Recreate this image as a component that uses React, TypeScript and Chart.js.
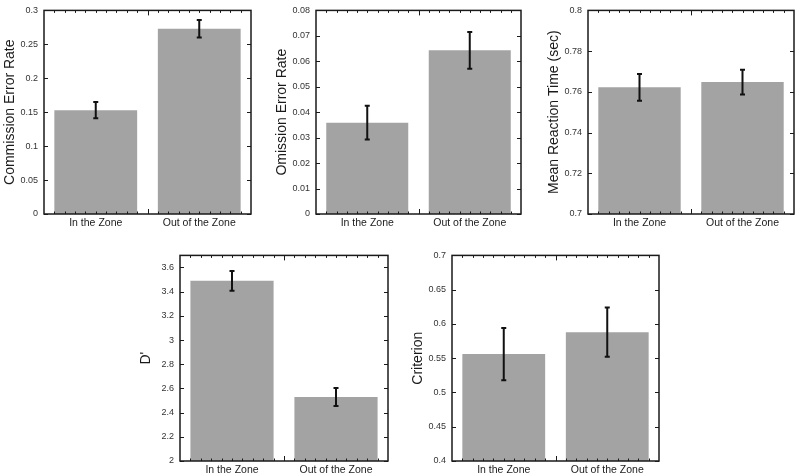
import React, { useEffect, useRef } from "react";
import { Chart, registerables } from "chart.js";

Chart.register(...registerables);
Chart.defaults.font.family = "'Liberation Sans', Arial, Helvetica, sans-serif";

const categories = ["In the Zone", "Out of the Zone"];

const commissionMeans = [0.153, 0.273];
const commissionErrors = [0.012, 0.013];
const commissionTicks = [0, 0.05, 0.1, 0.15, 0.2, 0.25, 0.3];

const omissionMeans = [0.0359, 0.0643];
const omissionErrors = [0.0066, 0.0072];
const omissionTicks = [0, 0.01, 0.02, 0.03, 0.04, 0.05, 0.06, 0.07, 0.08];

const rtMeans = [0.7622, 0.7648];
const rtErrors = [0.0066, 0.0061];
const rtTicks = [0.7, 0.72, 0.74, 0.76, 0.78, 0.8];

const dPrimeMeans = [3.49, 2.529];
const dPrimeErrors = [0.082, 0.074];
const dPrimeTicks = [2, 2.2, 2.4, 2.6, 2.8, 3, 3.2, 3.4, 3.6];
const dPrimeRange = [2, 3.7];

const criterionMeans = [0.556, 0.588];
const criterionErrors = [0.038, 0.036];
const criterionTicks = [0.4, 0.45, 0.5, 0.55, 0.6, 0.65, 0.7];

const YW = 48;
const PT = 8;
const PR = 8;
const XH = 24;

type Box = { l: number; t: number; r: number; b: number };

type PanelProps = {
  title: string;
  means: number[];
  errors: number[];
  ticks: number[];
  min: number;
  max: number;
  box: Box;
};

function Panel({ title, means, errors, ticks, min, max, box }: PanelProps) {
  const ref = useRef<HTMLCanvasElement | null>(null);
  const width = box.r - box.l + YW + PR;
  const height = box.b - box.t + PT + XH;

  useEffect(() => {
    if (!ref.current) return;
    const decor = {
      id: "decor",
      afterDatasetsDraw(chart: any) {
        const { ctx, chartArea: a, scales } = chart;
        const y = scales.y;
        const meta = chart.getDatasetMeta(0);
        ctx.save();
        // error bars
        ctx.strokeStyle = "#111";
        ctx.lineWidth = 2;
        meta.data.forEach((bar: any, i: number) => {
          const m = means[i];
          const e = errors[i];
          const yt = y.getPixelForValue(m + e);
          const yb = y.getPixelForValue(m - e);
          ctx.beginPath();
          ctx.moveTo(bar.x, yt);
          ctx.lineTo(bar.x, yb);
          ctx.moveTo(bar.x - 2.5, yt);
          ctx.lineTo(bar.x + 2.5, yt);
          ctx.moveTo(bar.x - 2.5, yb);
          ctx.lineTo(bar.x + 2.5, yb);
          ctx.stroke();
        });
        // frame
        ctx.strokeStyle = "#1a1a1a";
        ctx.lineWidth = 1.5;
        ctx.strokeRect(a.left, a.top, a.right - a.left, a.bottom - a.top);
        // y ticks inward, both sides
        ctx.lineWidth = 1.2;
        ctx.beginPath();
        ticks.forEach((v) => {
          const py = Math.round(y.getPixelForValue(v)) + 0.5;
          ctx.moveTo(a.left, py);
          ctx.lineTo(a.left + 4, py);
          ctx.moveTo(a.right, py);
          ctx.lineTo(a.right - 4, py);
        });
        ctx.stroke();
        // x minor / major ticks, top and bottom
        const n = categories.length;
        const cw = (a.right - a.left) / n;
        ctx.lineWidth = 1;
        ctx.beginPath();
        for (let i = 0; i < n; i++) {
          for (let k = 0; k < 10; k++) {
            if (i === 0 && k === 0) continue;
            const px = Math.round(a.left + (i + k / 10) * cw) + 0.5;
            const len = k === 0 ? 5 : 2.5;
            ctx.moveTo(px, a.bottom);
            ctx.lineTo(px, a.bottom - len);
            ctx.moveTo(px, a.top);
            ctx.lineTo(px, a.top + len);
          }
        }
        ctx.stroke();
        ctx.restore();
      },
    };

    const chart = new Chart(ref.current, {
      type: "bar",
      data: {
        labels: categories,
        datasets: [
          {
            data: means,
            backgroundColor: "#a3a3a3",
            borderWidth: 0,
            barPercentage: 0.8,
            categoryPercentage: 1,
          },
        ],
      },
      options: {
        responsive: false,
        animation: false,
        devicePixelRatio: 1,
        layout: { padding: { left: 0, top: PT, right: PR, bottom: 0 } },
        plugins: {
          legend: { display: false },
          tooltip: { enabled: false },
        },
        scales: {
          x: {
            grid: { display: false, drawTicks: false },
            border: { display: false },
            ticks: {
              color: "#1a1a1a",
              padding: 3,
              font: { size: 10.5 },
              maxRotation: 0,
              autoSkip: false,
            },
            afterFit: (s: any) => {
              s.height = XH;
            },
          },
          y: {
            min,
            max,
            grid: { display: false, drawTicks: false },
            border: { display: false },
            afterBuildTicks: (s: any) => {
              s.ticks = ticks.map((v) => ({ value: v }));
            },
            ticks: {
              color: "#333",
              padding: 6,
              font: { size: 9 },
              callback: (v: any) => String(v),
            },
            title: {
              display: true,
              text: title,
              color: "#1a1a1a",
              font: { size: 14 },
              padding: { top: 5.6, bottom: 0 },
            },
            afterFit: (s: any) => {
              s.width = YW;
            },
          },
        },
      },
      plugins: [decor],
    } as any);
    return () => chart.destroy();
  }, []);

  return (
    <canvas
      ref={ref}
      width={width}
      height={height}
      style={{
        position: "absolute",
        left: box.l - YW,
        top: box.t - PT,
        width,
        height,
      }}
    />
  );
}

export default function App() {
  return (
    <div
      style={{
        position: "absolute",
        left: 0,
        top: 0,
        width: 800,
        height: 476,
        background: "#fff",
        overflow: "hidden",
      }}
    >
      <Panel
        title="Commission Error Rate"
        means={commissionMeans}
        errors={commissionErrors}
        ticks={commissionTicks}
        min={commissionTicks[0]}
        max={commissionTicks[commissionTicks.length - 1]}
        box={{ l: 44, t: 7, r: 251, b: 214 }}
      />
      <Panel
        title="Omission Error Rate"
        means={omissionMeans}
        errors={omissionErrors}
        ticks={omissionTicks}
        min={omissionTicks[0]}
        max={omissionTicks[omissionTicks.length - 1]}
        box={{ l: 316, t: 7, r: 521, b: 214 }}
      />
      <Panel
        title="Mean Reaction Time (sec)"
        means={rtMeans}
        errors={rtErrors}
        ticks={rtTicks}
        min={rtTicks[0]}
        max={rtTicks[rtTicks.length - 1]}
        box={{ l: 588, t: 7, r: 794, b: 214 }}
      />
      <Panel
        title="D'"
        means={dPrimeMeans}
        errors={dPrimeErrors}
        ticks={dPrimeTicks}
        min={dPrimeRange[0]}
        max={dPrimeRange[1]}
        box={{ l: 180, t: 252, r: 388, b: 461 }}
      />
      <Panel
        title="Criterion"
        means={criterionMeans}
        errors={criterionErrors}
        ticks={criterionTicks}
        min={criterionTicks[0]}
        max={criterionTicks[criterionTicks.length - 1]}
        box={{ l: 452, t: 252, r: 659, b: 461 }}
      />
    </div>
  );
}
